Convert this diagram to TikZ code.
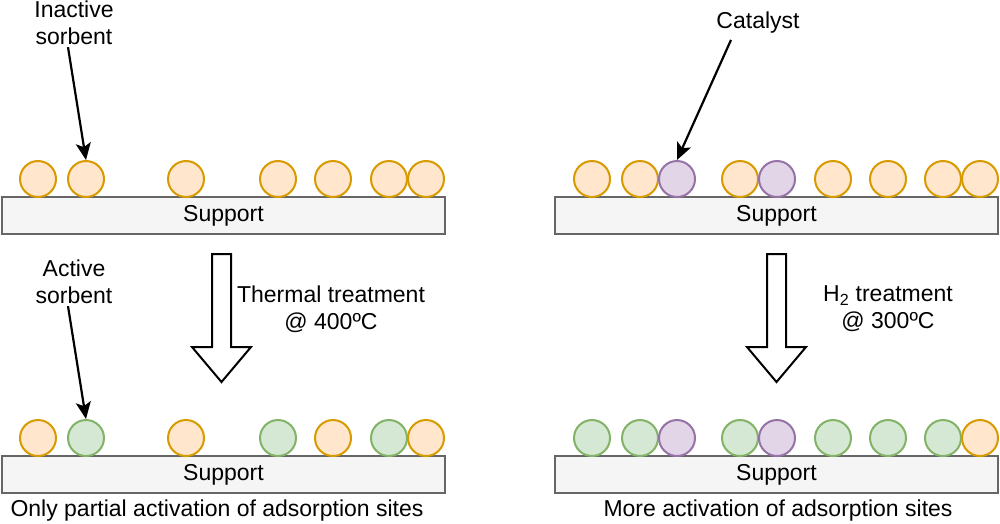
\documentclass[tikz,border=0pt]{standalone}
\usepackage{fontspec}
\setmainfont{Liberation Sans}
\usepackage{tikz}
\usetikzlibrary{
  arrows.meta,
  positioning
}
\definecolor{sorbOrange}{HTML}{FFE6CC}
\definecolor{sorbOrangeLine}{HTML}{D79B00}
\definecolor{sorbGreen}{HTML}{D5E8D4}
\definecolor{sorbGreenLine}{HTML}{82B366}
\definecolor{catPurple}{HTML}{E1D5E7}
\definecolor{catPurpleLine}{HTML}{9673A6}
\definecolor{supportFill}{HTML}{F5F5F5}
\definecolor{supportLine}{HTML}{666666}

\begin{document}
\begin{tikzpicture}[
  x=1pt, y=-1pt,
  font=\fontsize{23}{27}\selectfont,
  support/.style={
    draw=supportLine,
    fill=supportFill,
    line width=2pt,
    minimum width=443pt,
    minimum height=37pt,
    inner sep=0pt
  },
  particle/.style={circle, line width=2pt, minimum size=36pt, inner sep=0pt},
  inactive/.style={particle, draw=sorbOrangeLine, fill=sorbOrange},
  active/.style={particle, draw=sorbGreenLine, fill=sorbGreen},
  catalyst/.style={particle, draw=catPurpleLine, fill=catPurple},
  note/.style={align=center, inner sep=2pt},
  pointer/.style={
    -{Stealth[length=17pt,width=15pt,inset=4pt]},
    line width=2.2pt,
    draw=black
  },
  hollow/.style={draw=black, fill=white, line width=2pt, line join=miter}
]
\useasboundingbox (0,0) rectangle (1000,523);

% supports
\node[support] (supTL) at (223.5,215.5) {Support};
\node[support] (supBL) at (223.5,474.5) {Support};
\node[support] (supTR) at (776.5,215.5) {Support};
\node[support] (supBR) at (776.5,474.5) {Support};

% particles, left side (thermal)
\foreach \x/\s [count=\i] in {38/inactive,86/inactive,186/inactive,278/inactive,333/inactive,389/inactive,426/inactive}
  \node[\s] (tl\i) at (\x,179) {};
\foreach \x/\s [count=\i] in {38/inactive,86/active,186/inactive,278/active,333/inactive,389/active,426/inactive}
  \node[\s] (bl\i) at (\x,438) {};

% particles, right side (H2)
\foreach \x/\s [count=\i] in {592/inactive,640/inactive,677/catalyst,740/inactive,777/catalyst,833/inactive,888/inactive,943/inactive,980/inactive}
  \node[\s] (tr\i) at (\x,179) {};
\foreach \x/\s [count=\i] in {592/active,640/active,677/catalyst,740/active,777/catalyst,833/active,888/active,943/active,980/inactive}
  \node[\s] (br\i) at (\x,438) {};

% labels and pointers
\node[note] (lblInactive) at (74,23) {Inactive\\sorbent};
\node[note] (lblCatalyst) at (758,23) {Catalyst};
\node[note] (lblActive) at (74,282) {Active\\sorbent};

\draw[pointer] ([xshift=-6pt]lblInactive.south) -- (tl2.north);
\draw[pointer] ([xshift=-27pt,yshift=-4pt]lblCatalyst.south) -- (tr3.north);
\draw[pointer] ([xshift=-6pt]lblActive.south) -- (bl2.north);

% treatment arrows
\coordinate (heatL) at (221.5,254);
\coordinate (heatR) at (776.5,254);
\draw[hollow] (heatL) ++(-9.5,0) -- ++(0,93) -- ++(-20,0) -- ++(29.5,35)
  -- ++(29.5,-35) -- ++(-20,0) -- ++(0,-93) -- cycle;
\draw[hollow] (heatR) ++(-9.5,0) -- ++(0,93) -- ++(-20,0) -- ++(29.5,35)
  -- ++(29.5,-35) -- ++(-20,0) -- ++(0,-93) -- cycle;

\node[note] (thermal) at (331,309) {Thermal treatment\\@ 400ºC};
\node[note] (hydrogen) at (888,309) {H\textsubscript{2} treatment\\@ 300ºC};

% captions
\node[note] (capL) at (217,511) {Only partial activation of adsorption sites};
\node[note] (capR) at (778,511) {More activation of adsorption sites};

\end{tikzpicture}
\end{document}
